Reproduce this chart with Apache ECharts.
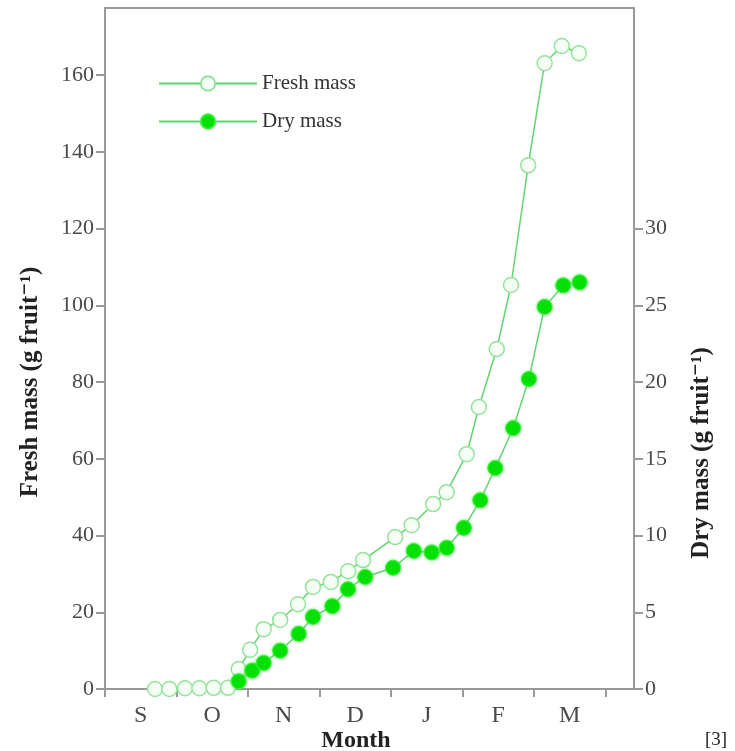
<!DOCTYPE html>
<html lang="en">
<head>
 <meta charset="UTF-8">
 <title>Fruit growth</title>
 <style>
  html, body { margin: 0; padding: 0; background: #fff; }
 </style>
</head>
<body>
 <div id="main" style="width: 735px;height:751px;"></div>
 <script src="https://cdn.jsdelivr.net/npm/echarts@6/dist/echarts.min.js"></script>
 <script type="text/javascript">
// months counted from 1 September
var months = ['S', 'O', 'N', 'D', 'J', 'F', 'M'];
var monthTicks = [0, 1, 2, 3, 4, 5, 6, 7];
var monthLabelPos = [0.5, 1.5, 2.5, 3.5, 4.5, 5.5, 6.5];
var freshTicks = [0, 20, 40, 60, 80, 100, 120, 140, 160];
var dryTicks = [0, 5, 10, 15, 20, 25, 30];

var freshX = [0.70, 0.90, 1.12, 1.32, 1.52, 1.72, 1.87, 2.03, 2.22, 2.45, 2.70, 2.91, 3.16, 3.40,
  3.61, 4.06, 4.29, 4.59, 4.78, 5.06, 5.23, 5.48, 5.68, 5.92, 6.15, 6.39, 6.63];
var freshMass = [0, 0, 0.2, 0.2, 0.3, 0.3, 5.2, 10.2, 15.6, 18.0, 22.1, 26.6, 27.9, 30.7,
  33.6, 39.6, 42.7, 48.2, 51.3, 61.2, 73.5, 88.6, 105.3, 136.5, 163.1, 167.6, 165.7];

var dryX = [1.87, 2.06, 2.22, 2.45, 2.71, 2.91, 3.18, 3.40, 3.64, 4.03, 4.32, 4.57, 4.78, 5.02,
  5.25, 5.46, 5.71, 5.93, 6.15, 6.41, 6.64];
var dryMass = [0.5, 1.2, 1.7, 2.5, 3.6, 4.7, 5.4, 6.5, 7.3, 7.9, 9.0, 8.9, 9.2, 10.5,
  12.3, 14.4, 17.0, 20.2, 24.9, 26.3, 26.5];

function pairs(xs, ys) {
    return xs.map(function (x, i) { return [x, ys[i]]; });
}

var serif = '"Liberation Serif", "DejaVu Serif", serif';
var axisGray = '#9a9a9a';
var lineGreen = '#5fd46f';

var myChart = echarts.init(document.getElementById('main'));

myChart.setOption({
    backgroundColor: '#fff',
    animation: false,
    grid: {
        left: 105, right: 101, top: 8, bottom: 62,
        show: true,
        borderColor: axisGray,
        borderWidth: 2
    },
    legend: {
        left: 158,
        top: 73,
        padding: 0,
        orient: 'vertical',
        itemWidth: 98,
        itemHeight: 18,
        itemGap: 17,
        textStyle: { fontFamily: serif, fontSize: 21, color: '#333' },
        data: ['Fresh mass', 'Dry mass']
    },
    xAxis: {
        type: 'value',
        min: 0,
        max: 7.4,
        interval: 1,
        splitLine: { show: false },
        axisLine: { lineStyle: { color: axisGray, width: 2 } },
        axisTick: {
            customValues: monthTicks,
            length: 8,
            lineStyle: { color: axisGray, width: 2 }
        },
        axisLabel: {
            customValues: monthLabelPos,
            formatter: function (v) { return months[Math.floor(v)] || ''; },
            margin: 15,
            fontFamily: serif,
            fontSize: 24,
            color: '#4a4a4a'
        }
    },
    yAxis: [{
        type: 'value',
        min: 0,
        max: 177.5,
        interval: 20,
        splitLine: { show: false },
        axisLine: { show: true, lineStyle: { color: axisGray, width: 2 } },
        axisTick: {
            show: true,
            customValues: freshTicks,
            length: 9,
            lineStyle: { color: axisGray, width: 2 }
        },
        axisLabel: {
            customValues: freshTicks,
            margin: 11,
            fontFamily: serif,
            fontSize: 22,
            color: '#4a4a4a'
        }
    }, {
        type: 'value',
        position: 'right',
        min: 0,
        max: 44.375,
        interval: 5,
        splitLine: { show: false },
        axisLine: { show: true, lineStyle: { color: axisGray, width: 2 } },
        axisTick: {
            show: true,
            customValues: dryTicks,
            length: 9,
            lineStyle: { color: axisGray, width: 2 }
        },
        axisLabel: {
            customValues: dryTicks,
            margin: 11,
            fontFamily: serif,
            fontSize: 22,
            color: '#4a4a4a'
        }
    }],
    graphic: [{
        type: 'text', x: 31, y: 382, rotation: Math.PI / 2,
        style: {
            text: 'Fresh mass (g fruit\u207B\u00B9)', align: 'center', verticalAlign: 'middle',
            fontFamily: serif, fontWeight: 'bold', fontSize: 25, fill: '#222'
        }
    }, {
        type: 'text', x: 702, y: 453, rotation: Math.PI / 2,
        style: {
            text: 'Dry mass (g fruit\u207B\u00B9)', align: 'center', verticalAlign: 'middle',
            fontFamily: serif, fontWeight: 'bold', fontSize: 25, fill: '#222'
        }
    }, {
        type: 'text', x: 356, y: 741,
        style: {
            text: 'Month', align: 'center', verticalAlign: 'middle',
            fontFamily: serif, fontWeight: 'bold', fontSize: 24, fill: '#222'
        }
    }, {
        type: 'text', x: 716, y: 740,
        style: {
            text: '[3]', align: 'center', verticalAlign: 'middle',
            fontFamily: serif, fontSize: 19, fill: '#222'
        }
    }],
    series: [{
        name: 'Fresh mass',
        type: 'line',
        yAxisIndex: 0,
        data: pairs(freshX, freshMass),
        symbol: 'circle',
        symbolSize: 15,
        lineStyle: { color: lineGreen, width: 1.5 },
        itemStyle: { color: '#f6fff6', borderColor: '#94e39a', borderWidth: 1.5 },
        z: 3
    }, {
        name: 'Dry mass',
        type: 'line',
        yAxisIndex: 1,
        data: pairs(dryX, dryMass),
        symbol: 'circle',
        symbolSize: 15,
        lineStyle: { color: lineGreen, width: 1.5 },
        itemStyle: { color: '#05e005', borderColor: '#3ff03f', borderWidth: 1, shadowColor: 'rgba(40,230,40,0.6)', shadowBlur: 3 },
        z: 4
    }]
});
 </script>
</body>
</html>
